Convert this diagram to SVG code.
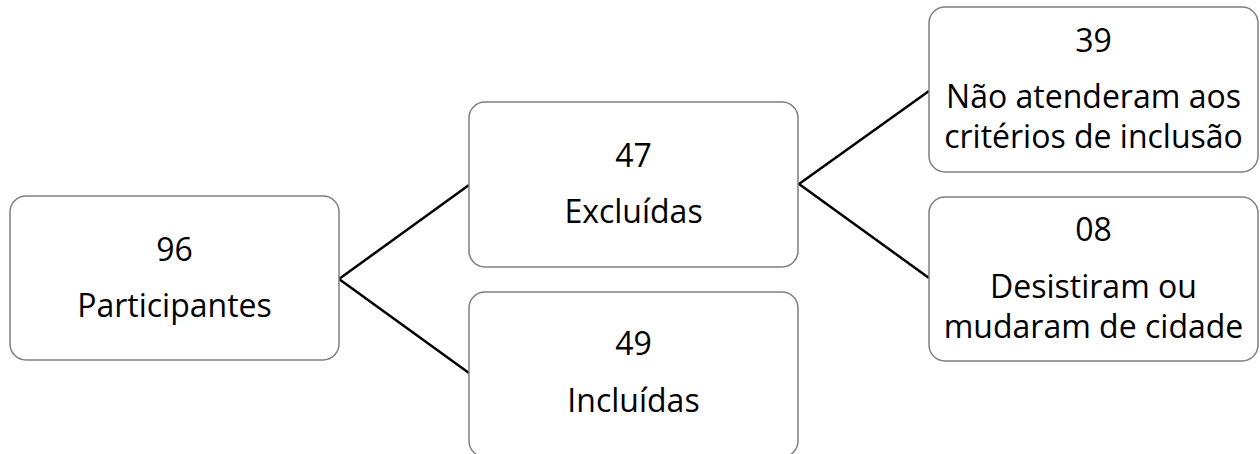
<svg xmlns="http://www.w3.org/2000/svg" width="1260" height="454" viewBox="0 0 1260 454">
<style>
.box{fill:#ffffff;stroke:#7f7f7f;stroke-width:1.5}
.t{font-family:"Open Sans","Noto Sans","Liberation Sans",sans-serif;font-size:32px;fill:#000000;text-anchor:middle}
.c{stroke:#000000;stroke-width:2.5;fill:none}
</style>
<rect width="1260" height="454" fill="#ffffff"/>
<g id="connectors">
<polyline class="c" points="469,185 339,279 469,373"/>
<polyline class="c" points="929,91 799,184 929,278"/>
</g>
<g id="n96">
<rect class="box" x="10" y="196" width="329" height="164" rx="16"/>
<text class="t" x="174.5" y="260.5">96</text>
<text class="t" x="174.5" y="316.5">Participantes</text>
</g>
<g id="n47">
<rect class="box" x="469" y="102" width="329" height="165" rx="16"/>
<text class="t" x="633.5" y="167">47</text>
<text class="t" x="633.5" y="223">Excluídas</text>
</g>
<g id="n49">
<rect class="box" x="469" y="292" width="329" height="165" rx="16"/>
<text class="t" x="633.5" y="355">49</text>
<text class="t" x="633.5" y="412">Incluídas</text>
</g>
<g id="n39">
<rect class="box" x="929" y="7" width="329" height="165" rx="16"/>
<text class="t" x="1093.5" y="52">39</text>
<text class="t" x="1093.5" y="107.5">Não atenderam aos</text>
<text class="t" x="1093.5" y="147.5">critérios de inclusão</text>
</g>
<g id="n08">
<rect class="box" x="929" y="197" width="329" height="164" rx="16"/>
<text class="t" x="1093.5" y="241">08</text>
<text class="t" x="1093.5" y="298">Desistiram ou</text>
<text class="t" x="1093.5" y="338">mudaram de cidade</text>
</g>
</svg>
